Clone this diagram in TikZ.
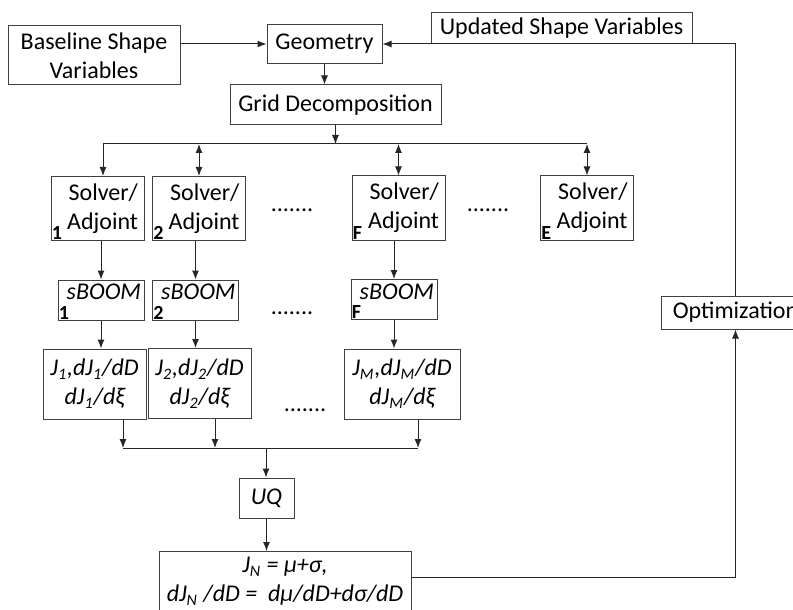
\documentclass[tikz,border=0pt,12pt]{standalone}
\usepackage{fontspec}
\setmainfont{Carlito}
\usetikzlibrary{arrows.meta,calc}

\begin{document}
\begin{tikzpicture}[x=0.5pt, y=-0.5pt, >={Latex[length=4.5pt,width=3.5pt]},
  block/.style={rectangle, draw=black!75, line width=0.5pt, inner sep=0pt, align=center},
  solver/.style={block, text width=40.5pt, inner xsep=3pt, minimum height=32pt, align=right},
  boom/.style={block, text width=40pt, inner xsep=1.5pt, minimum height=20pt, align=right, font=\itshape, text depth=8pt},
  jbox/.style={block, minimum height=35pt, font=\itshape},
  idx/.style={anchor=south west, inner sep=0.5pt, font=\fontsize{10}{12}\selectfont\bfseries},
  link/.style={line width=0.5pt, draw=black!85}]

  \useasboundingbox (0,0) rectangle (793,610);
  \clip (0,0) rectangle (793,610);

  \node[block, minimum width=86pt, minimum height=29.5pt] at (94,55.5) (base) {Baseline Shape\\Variables};
  \node[block, minimum width=57.5pt, minimum height=19.5pt] at (324.5,44) (geom) {Geometry};
  \node[block, minimum width=105.5pt, minimum height=20pt] at (335.5,105) (grid) {Grid Decomposition};
  \node[block, minimum width=130.5pt, minimum height=15.5pt, anchor=south] at (561.5,44) (upd) {Updated Shape Variables};
  \node[block, minimum width=74.5pt, minimum height=16.5pt] at (735.5,312.5) (opt) {Optimization};

  \node[solver] at (97.5,208.5) (s1) {Solver/\\Adjoint};
  \node[solver] at (199,208.5) (s2) {Solver/\\Adjoint};
  \node[solver] at (398.5,208) (sF) {Solver/\\Adjoint};
  \node[solver] at (587,208) (sE) {Solver/\\Adjoint};
  \node[idx] at (s1.south west) (n1) {1};
  \node[idx] at (s2.south west) (n2) {2};
  \node[idx] at (sF.south west) (nF) {F};
  \node[idx] at (sE.south west) (nE) {E};

  \node[boom] at (101,300) (o1) {sBOOM};
  \node[boom] at (195.5,300) (o2) {sBOOM};
  \node[boom] at (394,299.5) (oF) {sBOOM};
  \node[idx] at (o1.south west) (m1) {1};
  \node[idx] at (o2.south west) (m2) {2};
  \node[idx] at (oF.south west) (mF) {F};

  \node[jbox, minimum width=51.5pt] at (94.5,384) (j1) {J\textsubscript{1},dJ\textsubscript{1}/dD\\dJ\textsubscript{1}/dξ};
  \node[jbox, minimum width=51.5pt] at (199.5,383.5) (j2) {J\textsubscript{2},dJ\textsubscript{2}/dD\\dJ\textsubscript{2}/dξ};
  \node[jbox, minimum width=58pt] at (402,384) (jM) {J\textsubscript{M},dJ\textsubscript{M}/dD\\dJ\textsubscript{M}/dξ};

  \node[block, minimum width=27.5pt, minimum height=20pt, font=\itshape] at (266.5,498) (uq) {UQ};
  \node[block, minimum width=126pt, inner ysep=3pt, anchor=north, font=\itshape] at (285,551) (jn) {J\textsubscript{N} = μ+σ,\\dJ\textsubscript{N} /dD =\ \ dμ/dD+dσ/dD};

  \node at (292,210) (d1) {.......};
  \node at (488,210) (d2) {.......};
  \node at (292,313) (d3) {.......};
  \node at (305,410) (d4) {.......};

  \coordinate (bus) at (103,144);
  \coordinate (low) at (266,448);
  \coordinate (p1) at ([xshift=14.25pt]j1.south);
  \coordinate (p2) at ([xshift=7.75pt]j2.south);
  \coordinate (pM) at ([xshift=8pt]jM.south);

  \draw[link, ->] (base.east |- geom) -- (geom);
  \draw[link, ->] (geom) -- (geom |- grid.north);
  \draw[link, ->] (grid.south) -- (grid.south |- bus);
  \draw[link] (bus) -- (sE.north |- bus);
  \draw[link, ->] (bus) -- (bus |- s1.north);
  \draw[link, <->] (s2.north |- bus) -- (s2.north);
  \draw[link, <->] (sF.north |- bus) -- (sF.north);
  \draw[link, <->] (sE.north |- bus) -- (sE.north);

  \draw[link, ->] (s1.south -| o1) -- (o1);
  \draw[link, ->] (s2.south -| o2) -- (o2);
  \draw[link, ->] (sF.south -| oF) -- (oF);
  \draw[link, ->] (o1) -- (o1 |- j1.north);
  \draw[link, ->] (o2) -- (o2 |- j2.north);
  \draw[link, ->] (oF) -- (oF |- jM.north);

  \draw[link, ->] (p1) -- (p1 |- low);
  \draw[link, ->] (p2) -- (p2 |- low);
  \draw[link, ->] (pM) -- (pM |- low);
  \draw[link] (p1 |- low) -- (pM |- low);
  \draw[link, ->] (low) -- (low |- uq.north);
  \draw[link, ->] (uq) -- (uq |- jn.north);

  \draw[link, ->] ([yshift=2pt]jn.east) -| (opt);
  \draw[link, ->] (opt) |- (geom);

\end{tikzpicture}
\end{document}
